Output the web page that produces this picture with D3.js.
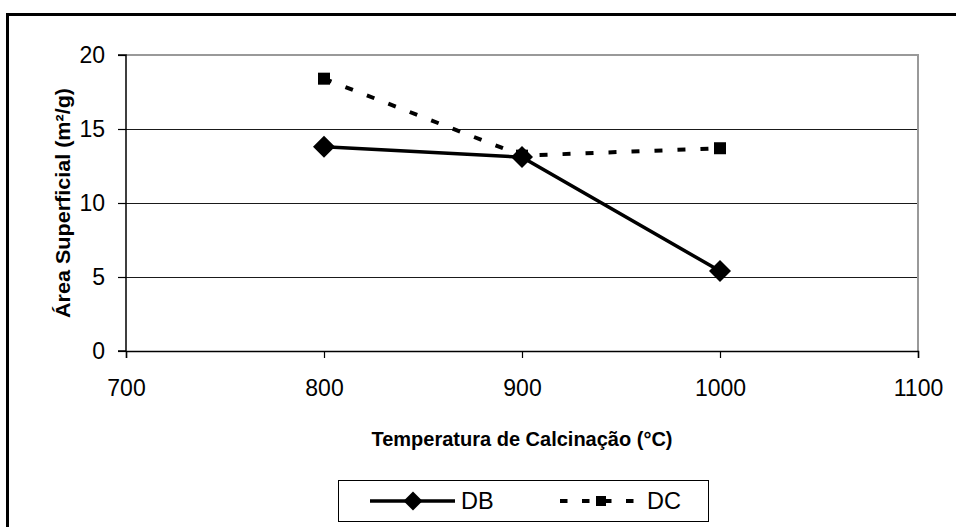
<!DOCTYPE html>
<html><head><meta charset="utf-8">
<script src="https://cdn.jsdelivr.net/npm/d3@7"></script>
<style>body{margin:0;background:#fff}svg{display:block}</style>
</head><body>
<script>
const temps = [800, 900, 1000];
const dbValues = [13.8, 13.1, 5.4];
const dcValues = [18.4, 13.2, 13.7];
const xTicks = [700, 800, 900, 1000, 1100];
const yTicks = [0, 5, 10, 15, 20];
const seriesNames = ["DB", "DC"];

const W = 956, H = 527;
const svg = d3.select("body").append("svg").attr("width", W).attr("height", H);
const font = "'Liberation Sans', Arial, sans-serif";

svg.append("rect").attr("x", 7.5).attr("y", 14.5).attr("width", 960).attr("height", 530)
  .attr("fill", "none").attr("stroke", "#000").attr("stroke-width", 3);

const x = d3.scaleLinear().domain([700, 1100]).range([126, 918]);
const y = d3.scaleLinear().domain([0, 20]).range([351, 55]);

// gridlines
svg.append("g").selectAll("line").data(yTicks.filter(d => d > 0 && d < 20)).join("line")
  .attr("x1", x(700)).attr("x2", x(1100)).attr("y1", d => Math.round(y(d)) + 0.5).attr("y2", d => Math.round(y(d)) + 0.5)
  .attr("stroke", "#1a1a1a").attr("stroke-width", 1.2);
// plot border top/right
svg.append("path").attr("d", `M${x(700)},${y(20)}H${x(1100)}V${y(0)}`)
  .attr("fill", "none").attr("stroke", "#999").attr("stroke-width", 2);

const xAxis = svg.append("g").attr("transform", `translate(0,${y(0)})`)
  .call(d3.axisBottom(x).tickValues(xTicks).tickSize(7).tickPadding(22).tickFormat(d3.format("d")));
const yAxis = svg.append("g").attr("transform", `translate(${x(700)},0)`)
  .call(d3.axisLeft(y).tickValues(yTicks).tickSize(8).tickPadding(13));
[xAxis, yAxis].forEach(a => {
  a.select(".domain").attr("stroke", "#000").attr("stroke-width", 1.5);
  a.selectAll(".tick line").attr("stroke", "#000").attr("stroke-width", 1.2);
  a.selectAll("text").attr("font-family", font).attr("font-size", 23).attr("fill", "#000");
});
yAxis.select(".domain").attr("d", `M-8,${y(20)}H0V${y(0)}H-8`);

svg.append("text").attr("x", 522).attr("y", 446).attr("text-anchor", "middle")
  .attr("font-family", font).attr("font-size", 20).attr("font-weight", "bold")
  .text("Temperatura de Calcinação (°C)");
svg.append("text").attr("transform", `translate(70,${(y(0)+y(20))/2}) rotate(-90)`)
  .attr("text-anchor", "middle").attr("font-family", font).attr("font-size", 20).attr("font-weight", "bold")
  .attr("textLength", 230).attr("lengthAdjust", "spacingAndGlyphs")
  .text("Área Superficial (m²/g)");

const line = d3.line().x(d => x(d[0])).y(d => y(d[1]));
const dbData = temps.map((t, i) => [t, dbValues[i]]);
const dcData = temps.map((t, i) => [t, dcValues[i]]);

svg.append("path").datum(dcData).attr("d", line).attr("fill", "none")
  .attr("stroke", "#000").attr("stroke-width", 4).attr("stroke-dasharray", "8,15");
svg.append("path").datum(dbData).attr("d", line).attr("fill", "none")
  .attr("stroke", "#000").attr("stroke-width", 3.5);

const diamond = (cx, cy, r) => `M${cx},${cy-r}L${cx+r},${cy}L${cx},${cy+r}L${cx-r},${cy}Z`;
svg.append("g").selectAll("path").data(dbData).join("path")
  .attr("d", d => diamond(x(d[0]), y(d[1]), 11)).attr("fill", "#000");
svg.append("g").selectAll("rect").data(dcData).join("rect")
  .attr("x", d => x(d[0]) - 6).attr("y", d => y(d[1]) - 6).attr("width", 12).attr("height", 12).attr("fill", "#000");

// legend
const lg = svg.append("g");
lg.append("rect").attr("x", 338.5).attr("y", 480.5).attr("width", 370).attr("height", 41)
  .attr("fill", "#fff").attr("stroke", "#000").attr("stroke-width", 1);
lg.append("line").attr("x1", 370).attr("x2", 455).attr("y1", 501).attr("y2", 501)
  .attr("stroke", "#000").attr("stroke-width", 3.5);
lg.append("path").attr("d", diamond(413, 501, 9.5)).attr("fill", "#000");
lg.append("text").attr("x", 461).attr("y", 509).attr("font-family", font).attr("font-size", 23.5).text(seriesNames[0]);
lg.append("line").attr("x1", 560).attr("x2", 635).attr("y1", 501).attr("y2", 501)
  .attr("stroke", "#000").attr("stroke-width", 4).attr("stroke-dasharray", "7.5,14.5");
lg.append("rect").attr("x", 596).attr("y", 496).attr("width", 10).attr("height", 10).attr("fill", "#000");
lg.append("text").attr("x", 647).attr("y", 509).attr("font-family", font).attr("font-size", 23.5).text(seriesNames[1]);
</script>
</body></html>
